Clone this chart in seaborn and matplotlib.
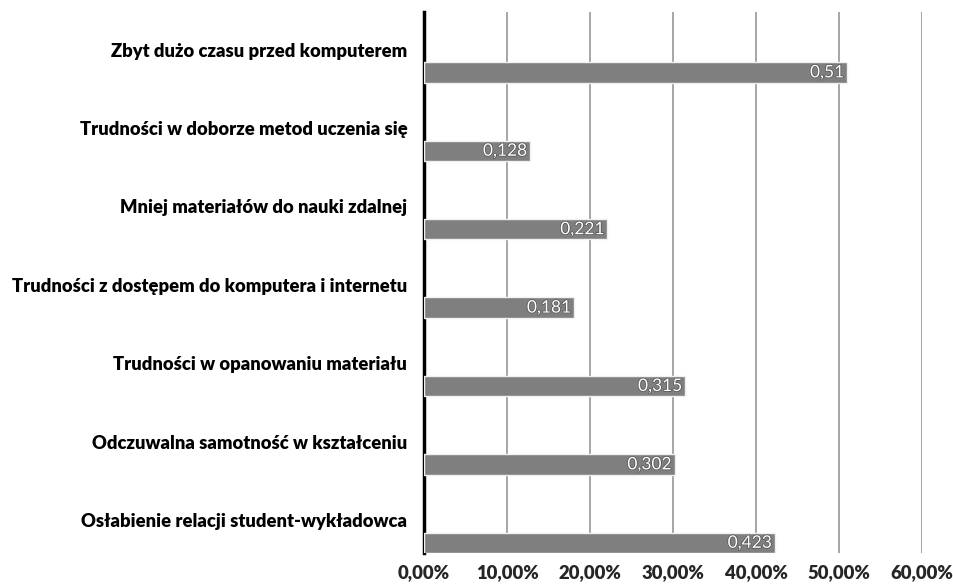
import matplotlib
matplotlib.use("Agg")
import matplotlib.pyplot as plt
import matplotlib.patheffects as pe
from matplotlib.ticker import FuncFormatter
import seaborn as sns
import pandas as pd

categories = [
    "Zbyt dużo czasu przed komputerem",
    "Trudności w doborze metod uczenia się",
    "Mniej materiałów do nauki zdalnej",
    "Trudności z dostępem do komputera i internetu",
    "Trudności w opanowaniu materiału",
    "Odczuwalna samotność w kształceniu",
    "Osłabienie relacji student-wykładowca",
]
values = [0.51, 0.128, 0.221, 0.181, 0.315, 0.302, 0.423]
value_labels = ["0,51", "0,128", "0,221", "0,181", "0,315", "0,302", "0,423"]
x_ticks = [0.0, 0.1, 0.2, 0.3, 0.4, 0.5, 0.6]

sns.set_theme(style="white")
plt.rcParams["font.family"] = ["Lato", "DejaVu Sans"]

df = pd.DataFrame({"category": categories, "value": values})

fig = plt.figure(figsize=(9.54, 5.84), dpi=100)
ax = fig.add_axes([424 / 954, 1 - 553 / 584, (922 - 424) / 954, (553 - 12) / 584])

sns.barplot(data=df, x="value", y="category", orient="h", color="#7f7f7f",
            saturation=1, width=0.26, edgecolor="#f0f0f0", linewidth=1.0,
            ax=ax, zorder=3)

ax.set_xlim(0, 0.6)
ax.set_ylim(6.13, -0.77)
ax.set_xticks(x_ticks)
ax.xaxis.set_major_formatter(FuncFormatter(lambda v, p: f"{v*100:.2f}%".replace(".", ",")))
ax.grid(axis="x", color="#a6a6a6", linewidth=1.4, zorder=0)
ax.grid(axis="y", visible=False)
for s in ["top", "right", "bottom"]:
    ax.spines[s].set_visible(False)
ax.spines["left"].set_color("black")
ax.spines["left"].set_linewidth(2.5)
ax.spines["left"].set_zorder(2.5)

ax.set_yticks([i - 0.29 for i in range(len(categories))])
ax.set_yticklabels(categories, fontsize=13.2, fontweight="heavy", color="black")
ax.tick_params(axis="y", length=0, pad=12)
ax.tick_params(axis="x", length=0, pad=8, labelsize=13.3)
for lab in ax.get_xticklabels():
    lab.set_fontweight("heavy")
ax.set_xlabel("")
ax.set_ylabel("")

for i, (v, t) in enumerate(zip(values, value_labels)):
    ax.text(v - 0.004, i, t, ha="right", va="center", color="white", fontsize=12.5,
            zorder=5, path_effects=[pe.withStroke(linewidth=1.0, foreground="#505050")])

fig.savefig("out.png", dpi=100)
